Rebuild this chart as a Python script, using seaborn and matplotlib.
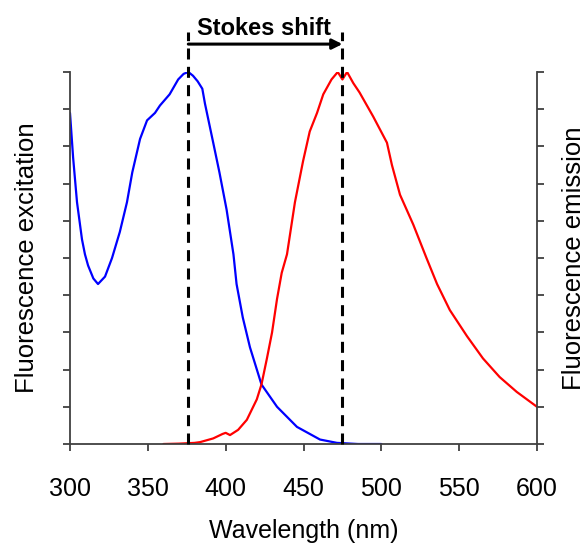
import numpy as np
import pandas as pd
import matplotlib
matplotlib.use('Agg')
import matplotlib.pyplot as plt
import seaborn as sns

# 여기 값들은 그림에서 눈으로 읽은 것
ex_wl = [300, 302, 304.5, 307.7, 309.6, 311.6, 315, 318, 322.5, 327, 332, 336.6, 340, 345,
         349.5, 354.6, 357.8, 364, 369.5, 373, 376, 379, 382, 385, 386.7, 392, 396, 400.6,
         405, 407, 411, 415.6, 423, 433, 445.8, 460.6, 471.5, 485, 500]
ex_val = [0.89, 0.77, 0.65, 0.55, 0.51, 0.48, 0.445, 0.43, 0.45, 0.50, 0.57, 0.65, 0.73, 0.82,
          0.87, 0.89, 0.91, 0.94, 0.98, 0.995, 1.0, 0.99, 0.975, 0.955, 0.915, 0.81, 0.73, 0.63,
          0.51, 0.43, 0.34, 0.26, 0.16, 0.10, 0.046, 0.012, 0.003, 0.0, 0.0]

em_wl = [360, 370, 380, 383.5, 392, 398, 400, 402.8, 408, 413.6, 420, 423, 426.5, 429.8,
         433, 436, 439.4, 444.5, 449.7, 454, 458.7, 462.7, 468, 472, 475, 478, 482, 486,
         494.8, 503.6, 506.8, 512, 520.5, 529, 535.8, 544, 555, 565.3, 576, 587, 600]
em_val = [0.0, 0.001, 0.003, 0.005, 0.015, 0.027, 0.03, 0.024, 0.038, 0.065, 0.12, 0.16, 0.23,
          0.30, 0.39, 0.46, 0.51, 0.65, 0.76, 0.84, 0.89, 0.94, 0.98, 1.0, 0.98, 1.0, 0.97,
          0.945, 0.88, 0.81, 0.75, 0.67, 0.59, 0.50, 0.43, 0.36, 0.29, 0.23, 0.18, 0.14, 0.10]

ex_peak = 376
em_peak = 475
xticks = [300, 350, 400, 450, 500, 550, 600]

sns.set_style('ticks')
plt.rcParams['font.family'] = ['Liberation Sans', 'DejaVu Sans']
plt.rcParams['text.color'] = 'black'
plt.rcParams['axes.labelcolor'] = 'black'
plt.rcParams['xtick.labelcolor'] = 'black'

fig = plt.figure(figsize=(5.87, 5.5), dpi=100)
ax = fig.add_axes([70/587, 1-444/550, 467/587, 372/550])

df_ex = pd.DataFrame({'wl': ex_wl, 'val': ex_val})
df_em = pd.DataFrame({'wl': em_wl, 'val': em_val})
sns.lineplot(data=df_ex, x='wl', y='val', color='#0000ff', linewidth=1.6, ax=ax)
sns.lineplot(data=df_em, x='wl', y='val', color='#ff0000', linewidth=1.6, ax=ax)

# 점선 (축 위로 넘어감)
for p in [ex_peak, em_peak]:
    ax.plot([p, p], [0, 1.108], color='black', linewidth=2.2, dashes=(3.6, 2.4),
            clip_on=False, zorder=5)

ax.annotate('', xy=(em_peak, 1.075), xytext=(ex_peak, 1.075), xycoords='data',
            arrowprops=dict(arrowstyle='-|>,head_length=0.6,head_width=0.3',
                            color='black', lw=2.2, shrinkA=0, shrinkB=0),
            annotation_clip=False)
ax.text((ex_peak+em_peak)/2 - 1, 1.099, 'Stokes shift', ha='center', va='baseline',
        fontsize=17, fontweight='bold')

ax.set_xlim(300, 600)
ax.set_ylim(0, 1)
ax.set_xticks(xticks)
ax.set_yticks(np.linspace(0, 1, 11))
ax.set_yticklabels([])
ax.tick_params(axis='both', direction='out', length=5, width=1.3, color='#404040')
ax.tick_params(axis='x', labelsize=18, pad=19)
ax.tick_params(axis='y', pad=0)
ax.set_xlabel('Wavelength (nm)', fontsize=18, labelpad=13)
ax.set_ylabel('Fluorescence excitation', fontsize=18.5, labelpad=17)

ax2 = ax.twinx()
ax2.set_ylim(0, 1)
ax2.set_yticks(np.linspace(0, 1, 11))
ax2.set_yticklabels([])
ax2.tick_params(axis='y', direction='out', length=5, width=1.3, color='#404040', pad=0)
ax2.set_ylabel('Fluorescence emission', fontsize=18.5, labelpad=13)

for a in [ax, ax2]:
    a.spines['top'].set_visible(False)
    for s in ['left', 'bottom', 'right']:
        a.spines[s].set_color('#404040')
        a.spines[s].set_linewidth(1.3)
ax2.spines['left'].set_visible(False)
ax2.spines['bottom'].set_visible(False)
ax.spines['right'].set_visible(False)

plt.savefig('out.png', dpi=100)
